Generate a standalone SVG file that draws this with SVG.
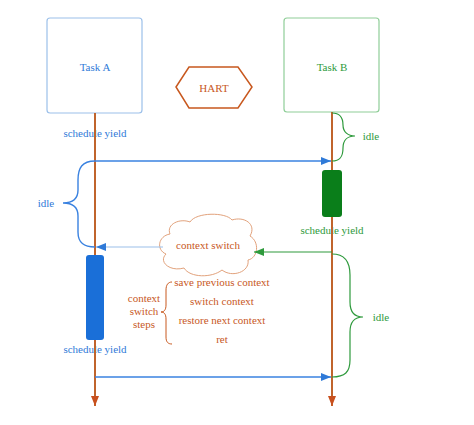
<svg xmlns="http://www.w3.org/2000/svg" width="474" height="425" viewBox="0 0 474 425">
<defs>
<style>
text{font-family:"Liberation Serif","DejaVu Serif",serif;font-size:11px;text-anchor:middle}
.blue{fill:#2f7ad8}
.green{fill:#2e9a3c}
.orange{fill:#c8581e}
.life{stroke:#c0642c;stroke-width:2;fill:none}
.bl{stroke:#3a82e0;stroke-width:1.4;fill:none}
.gl{stroke:#2e9a3c;stroke-width:1.2;fill:none}
</style>
<marker id="ab" markerWidth="10" markerHeight="8" refX="10" refY="4" orient="auto" markerUnits="userSpaceOnUse"><path d="M0,0 L10,4 L0,8 Z" fill="#2f7ad8"/></marker>
<marker id="ag" markerWidth="10" markerHeight="8" refX="10" refY="4" orient="auto" markerUnits="userSpaceOnUse"><path d="M0,0 L10,4 L0,8 Z" fill="#2e9a3c"/></marker>
<marker id="ao2" markerWidth="10" markerHeight="8" refX="10" refY="4" orient="auto" markerUnits="userSpaceOnUse"><path d="M0,0 L10,4 L0,8 Z" fill="#c8501e"/></marker>
</defs>

<g id="taskA">
<rect x="47" y="18" width="95" height="95" rx="3" fill="#fff" stroke="#9cc0ea" stroke-width="1.2"/>
<text x="95" y="71" class="blue">Task A</text>
</g>
<g id="taskB">
<rect x="284" y="18" width="95" height="94" rx="3" fill="#fff" stroke="#8fce98" stroke-width="1.2"/>
<text x="332" y="71" class="green">Task B</text>
</g>
<g id="hart">
<polygon points="176,87 189,67 238,67 252,87 238,108 189,108" fill="#fff" stroke="#c8581e" stroke-width="1.5"/>
<text x="214" y="92" class="orange">HART</text>
</g>

<g id="labels">
<text x="95" y="137" class="blue">schedule yield</text>
<text x="332" y="234" class="green">schedule yield</text>
<text x="95" y="353" class="blue">schedule yield</text>
<text x="46" y="207" class="blue">idle</text>
<text x="371" y="140" class="green">idle</text>
<text x="381" y="321" class="green">idle</text>
</g>

<g id="cloud">
<path d="M170 234 C166 224,180 218,190 222 C196 212,226 212,232 220 C244 216,257 224,250 236 C260 242,258 258,248 260 C250 272,232 278,222 270 C212 278,190 278,184 268 C170 272,158 262,166 254 C156 250,158 236,170 234 Z" fill="#fff" stroke="#e2a27c" stroke-width="1"/>
<text x="208" y="249" class="orange">context switch</text>
</g>

<g id="steps">
<text x="222" y="286" class="orange">save previous context</text>
<text x="222" y="305" class="orange">switch  context</text>
<text x="222" y="324" class="orange">restore next context</text>
<text x="222" y="343" class="orange">ret</text>
<text x="144" y="302" class="orange">context</text>
<text x="144" y="315" class="orange">switch</text>
<text x="144" y="328" class="orange">steps</text>
<path d="M172 282 C168 282,166 285,166 290 L166 305 C166 310,164 312,161 312 C164 312,166 314,166 319 L166 337 C166 342,168 344,172 344" fill="none" stroke="#c8581e" stroke-width="1"/>
</g>

<g id="connectors">
<line x1="95" y1="113" x2="95" y2="406" class="life" marker-end="url(#ao2)"/>
<line x1="332" y1="112" x2="332" y2="406" class="life" marker-end="url(#ao2)"/>
<line x1="95" y1="161" x2="331" y2="161" class="bl" marker-end="url(#ab)"/>
<line x1="163" y1="247" x2="96" y2="247" stroke="#9cc0ea" stroke-width="1.2" marker-end="url(#ab)"/>
<line x1="332" y1="252" x2="254" y2="252" class="gl" marker-end="url(#ag)"/>
<line x1="95" y1="377" x2="331" y2="377" class="bl" marker-end="url(#ab)"/>
<path d="M95 161 C82 161,78 168,78 180 L78 190 C78 199,72 203,63 203 C72 203,78 207,78 216 L78 232 C78 243,84 247,95 247" class="bl" stroke-width="1.2"/>
<path d="M332 113 C340 113,343 118,343 125 C343 132,348 136,355 136 C348 136,343 140,343 148 C343 157,340 161,332 161" class="gl"/>
<path d="M332 254 C345 254,350 262,350 275 L350 302 C350 312,355 317,363 317 C355 317,350 322,350 332 L350 360 C350 372,345 377,332 377" class="gl"/>
</g>

<g id="activations">
<rect x="322" y="170" width="20" height="47" rx="3" fill="#0a7e1a"/>
<rect x="86" y="255" width="18" height="85" rx="3" fill="#1a6fd8"/>
</g>
</svg>
